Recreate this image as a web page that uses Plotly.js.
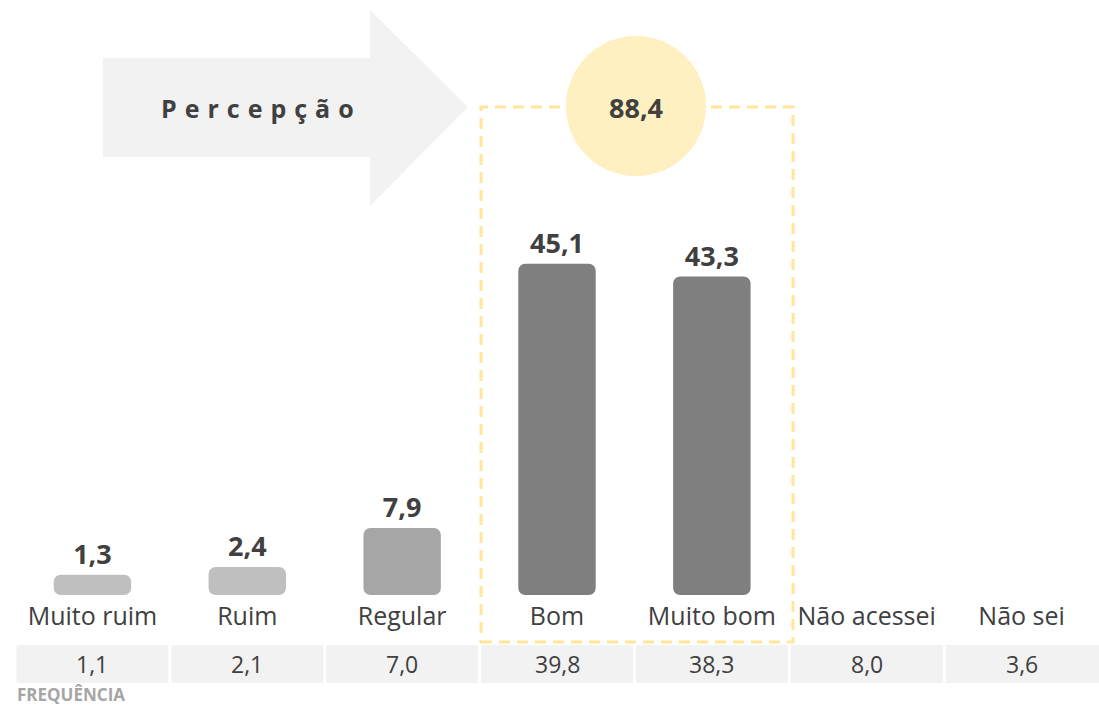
<!DOCTYPE html>
<html>
<head>
<meta charset="utf-8">
<script src="https://cdn.plot.ly/plotly-3.0.1.min.js"></script>
<style>
  html, body { margin: 0; padding: 0; background: #ffffff; }
  #chart { width: 1099px; height: 708px; }
</style>
</head>
<body>
<div id="chart"></div>
<script>
// ---- Data ----
const categories = ['Muito ruim', 'Ruim', 'Regular', 'Bom', 'Muito bom', 'Não acessei', 'Não sei'];
const perception = [1.3, 2.4, 7.9, 45.1, 43.3, null, null];
const frequency = [1.1, 2.1, 7.0, 39.8, 38.3, 8.0, 3.6];
const positiveTotal = 88.4;
const headerLabel = 'Percepção';
const footerLabel = 'FREQUÊNCIA';

// ---- Styles ----
const barColors = ['#bfbfbf', '#bfbfbf', '#a6a6a6', '#7f7f7f', '#7f7f7f', '#7f7f7f', '#7f7f7f'];
const FONT = '"Open Sans", "Noto Sans", sans-serif';
const DARK = '#404040';
const W = 1099, H = 708;
const M = { l: 15, r: 0, t: 0, b: 113 };
const PW = W - M.l - M.r, PH = H - M.t - M.b;
const Y_MIN = -1.55;            // axis starts slightly below zero
const Y_MAX = Y_MIN + PH / 7.1;

const fmt = v => v.toFixed(1).replace('.', ',');
const px = x => (x - M.l) / PW;          // pixel -> paper x
const py = y => (M.t + PH - y) / PH;     // pixel -> paper y

const barTrace = {
  type: 'bar',
  x: categories,
  y: perception.map(v => v == null ? null : v - Y_MIN),
  base: Y_MIN,
  width: 0.5,
  marker: { color: barColors, cornerradius: 7, line: { width: 0 } },
  text: perception.map(v => v == null ? '' : fmt(v)),
  textposition: 'outside',
  cliponaxis: false,
  textfont: { family: FONT, size: 27, color: DARK, weight: 'bold' },
  hoverinfo: 'skip'
};

const shapes = [];
const annotations = [];

// Arrow
const arrowPts = [[103, 58], [370, 58], [370, 10], [468, 107], [370, 206], [370, 157], [103, 157]];
shapes.push({
  type: 'path', xref: 'paper', yref: 'paper', layer: 'below',
  path: 'M ' + arrowPts.map(p => px(p[0]).toFixed(5) + ',' + py(p[1]).toFixed(5)).join(' L ') + ' Z',
  fillcolor: '#f2f2f2', line: { width: 0 }
});
annotations.push({
  xref: 'paper', yref: 'paper', x: px(261), y: py(108), xanchor: 'center', yanchor: 'middle',
  showarrow: false,
  text: "<span style='letter-spacing:8px'>" + headerLabel + "</span>",
  font: { family: FONT, size: 25, color: DARK, weight: 'bold' }
});

// Dashed highlight box
shapes.push({
  type: 'rect', xref: 'paper', yref: 'paper', layer: 'above',
  x0: px(481), x1: px(793), y0: py(642), y1: py(107),
  fillcolor: 'rgba(0,0,0,0)',
  line: { color: '#ffe699', width: 3, dash: '11px,7px' }
});
// Circle with total
shapes.push({
  type: 'circle', xref: 'paper', yref: 'paper', layer: 'above',
  x0: px(566), x1: px(706), y0: py(176), y1: py(36),
  fillcolor: '#fff0c1', line: { width: 0 }
});
annotations.push({
  xref: 'paper', yref: 'paper', x: px(636), y: py(107), xanchor: 'center', yanchor: 'middle',
  showarrow: false, text: fmt(positiveTotal),
  font: { family: FONT, size: 27, color: DARK, weight: 'bold' }
});

// Frequency row
frequency.forEach((v, i) => {
  shapes.push({
    type: 'rect', xref: 'x', yref: 'paper', layer: 'below',
    x0: i - 0.49, x1: i === frequency.length - 1 ? i + 0.5 : i + 0.49,
    y0: py(683), y1: py(645),
    fillcolor: '#f2f2f2', line: { width: 0 }
  });
  annotations.push({
    xref: 'x', yref: 'paper', x: i, y: py(664), xanchor: 'center', yanchor: 'middle',
    showarrow: false, text: fmt(v),
    font: { family: FONT, size: 23, color: DARK }
  });
});
annotations.push({
  xref: 'paper', yref: 'paper', x: px(15), y: py(708), xanchor: 'left', yanchor: 'bottom',
  showarrow: false, text: footerLabel,
  font: { family: FONT, size: 17, color: '#a6a6a6', weight: 'bold' }
});

const layout = {
  width: W, height: H,
  margin: M,
  paper_bgcolor: '#ffffff', plot_bgcolor: '#ffffff',
  showlegend: false,
  font: { family: FONT, color: DARK },
  xaxis: {
    type: 'category', range: [-0.5, 6.5],
    showgrid: false, zeroline: false, showline: false, ticks: '',
    ticklabelstandoff: 4,
    tickfont: { family: FONT, size: 25, color: DARK },
    fixedrange: true
  },
  yaxis: { range: [Y_MIN, Y_MAX], visible: false, fixedrange: true },
  shapes: shapes,
  annotations: annotations
};

Plotly.newPlot('chart', [barTrace], layout, { displayModeBar: false, staticPlot: true });
</script>
</body>
</html>
